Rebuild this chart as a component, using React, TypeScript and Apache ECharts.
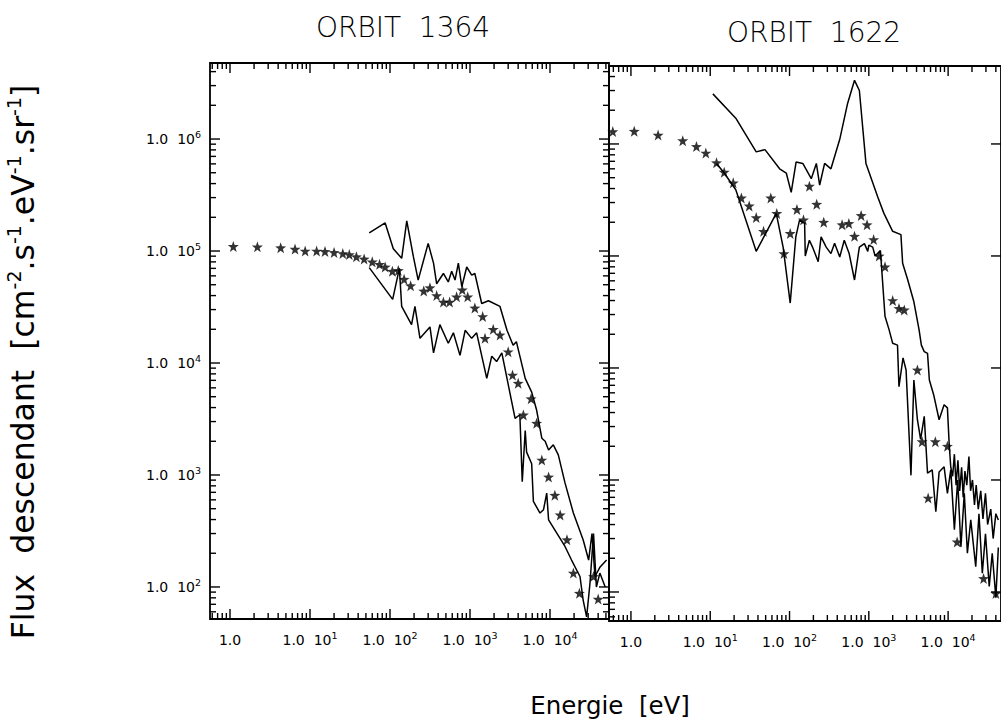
import React, { useEffect, useRef } from "react";
import * as echarts from "echarts";

// ---------- data (energy [eV], flux) ----------
const orbit1364Stars: [number, number][] = [
  [1.1, 1.1e5], [2.2, 1.09e5], [4.3, 1.07e5], [6.5, 1.04e5], [8.7, 1.0e5], [12.1, 1.0e5],
  [15.4, 9.9e4], [20, 9.7e4], [25.7, 9.5e4], [31, 9.3e4], [38, 8.9e4], [47.5, 8.5e4],
  [60, 8.0e4], [74, 7.6e4], [87, 7.2e4], [107, 6.6e4], [127, 6.7e4], [150, 5.6e4],
  [181, 4.9e4], [264, 4.4e4], [316, 4.7e4], [383, 4.0e4], [465, 3.5e4], [556, 3.5e4],
  [680, 3.9e4], [800, 4.5e4], [935, 3.9e4], [1150, 3.1e4], [1440, 2.6e4], [1540, 1.66e4],
  [1950, 2.0e4], [2370, 1.78e4], [3000, 1.26e4], [3400, 7800], [4000, 6600], [4650, 3440],
  [5800, 4800], [6800, 2900], [7900, 1360], [9600, 960], [11500, 660], [13400, 440],
  [16300, 264], [19600, 133], [23300, 88], [35000, 124], [40000, 78],
];

const orbit1364Upper: [number, number][] = [
  [55, 1.45e5], [87, 1.78e5], [110, 1.05e5], [140, 8.6e4], [162, 1.86e5], [196, 8.9e4],
  [225, 5.5e4], [300, 1.17e5], [350, 7.8e4], [383, 5.1e4], [465, 6.3e4], [535, 5.3e4],
  [590, 6.6e4], [650, 5.5e4], [715, 7.8e4], [790, 4.8e4], [910, 7.2e4], [1050, 6.1e4],
  [1150, 6.3e4], [1400, 3.4e4], [1700, 3.6e4], [2370, 3.2e4], [2900, 1.96e4], [3460, 1.44e4],
  [3800, 1.55e4], [4900, 7300], [5900, 5500], [6800, 3800], [7900, 2130], [8700, 2000],
  [9600, 1670], [11000, 1860], [12700, 1510], [15400, 850], [19600, 457], [26000, 263],
  [30400, 174], [33500, 300], [36500, 124], [42300, 151], [51000, 174],
];

const orbit1364Lower: [number, number][] = [
  [55, 7.1e4], [108, 3.7e4], [131, 7.0e4], [140, 3.2e4], [186, 2.2e4], [205, 3.2e4],
  [225, 2.1e4], [237, 1.66e4], [316, 2.1e4], [350, 1.23e4], [420, 2.2e4], [535, 1.5e4],
  [620, 1.86e4], [750, 1.17e4], [870, 1.96e4], [1050, 1.66e4], [1210, 1.86e4], [1620, 7300],
  [1870, 1.15e4], [2150, 1.03e4], [2500, 1.23e4], [3660, 3200], [4200, 3450], [4500, 870],
  [4900, 2500], [5100, 1600], [5900, 1260], [6200, 580], [7500, 457], [8300, 490],
  [9100, 690], [9600, 397], [15400, 230], [18600, 174], [23700, 124], [26000, 76],
  [28700, 54], [31600, 108], [35000, 300], [38000, 100], [42000, 133], [49000, 100],
];

const orbit1622Stars: [number, number][] = [
  [0.59, 1.29e6], [1.1, 1.3e6], [2.2, 1.2e6], [4.5, 1.07e6], [6.7, 9.5e5], [8.8, 8.3e5],
  [12, 6.8e5], [15, 5.6e5], [19.5, 4.5e5], [24.7, 3.3e5], [31, 2.8e5], [38, 2.2e5],
  [47, 1.66e5], [58, 3.3e5], [69, 2.4e5], [85, 1.05e5], [102, 1.59e5], [124, 2.6e5],
  [150, 2.1e5], [178, 4.2e5], [220, 2.9e5], [270, 2.0e5], [460, 1.9e5], [560, 1.95e5],
  [660, 1.5e5], [800, 2.3e5], [950, 1.9e5], [1150, 1.4e5], [1350, 1.0e5], [1600, 8.0e4],
  [2000, 4.0e4], [2400, 3.4e4], [2800, 3.3e4], [4100, 9600], [4700, 2200], [5600, 690],
  [6900, 2200], [9800, 2000], [13000, 280], [28000, 132], [40000, 97],
];

const orbit1622Upper: [number, number][] = [
  [10.8, 2.8e6], [21, 1.7e6], [38, 8.5e5], [49, 8.9e5], [75, 6.0e5], [91, 5.5e5],
  [105, 3.7e5], [121, 6.9e5], [147, 6.7e5], [188, 4.9e5], [218, 6.7e5], [240, 4.3e5],
  [277, 6.7e5], [333, 6.0e5], [430, 1.1e6], [540, 2.3e6], [660, 3.7e6], [760, 3.0e6],
  [920, 6.7e5], [1290, 3.4e5], [1550, 2.4e5], [2000, 1.66e5], [2540, 1.55e5], [2670, 8.6e4],
  [3100, 6.1e4], [3700, 3.9e4], [4300, 2.2e4], [4600, 1.6e4], [5000, 1.4e4], [5500, 1.35e4],
  [5800, 7800], [6600, 5700], [7700, 3450], [8900, 4700], [9800, 4400], [10300, 2150],
  [10800, 1300], [11400, 1080], [12000, 1700], [12600, 900], [13300, 1500], [14000, 800],
  [14800, 1300], [15500, 700], [16300, 1200], [17200, 900], [18300, 1620], [19200, 800],
  [20300, 1000], [21500, 600], [22600, 900], [24000, 550], [25800, 800], [27500, 450],
  [29600, 760], [31500, 400], [34500, 550], [37000, 300], [40000, 500], [43000, 440],
];

const orbit1622Lower: [number, number][] = [
  [12, 6.7e5], [15, 5.5e5], [21, 3.9e5], [38, 1.1e5], [68, 2.4e5], [83, 1.2e5],
  [102, 3.8e4], [120, 1.48e5], [134, 2.1e5], [155, 1.95e5], [158, 1.0e5], [178, 1.38e5],
  [195, 1.2e5], [230, 8.9e4], [250, 1.48e5], [290, 1.2e5], [333, 1.05e5], [370, 1.3e5],
  [430, 9.8e4], [490, 1.38e5], [565, 1.05e5], [660, 6.1e4], [760, 1.2e5], [880, 1.29e5],
  [970, 1.1e5], [1000, 1.25e5], [1120, 1.2e5], [1200, 1.0e5], [1400, 1.12e5], [1600, 2.9e4],
  [1800, 2.2e4], [2000, 1.66e4], [2300, 1.6e4], [2400, 6800], [2700, 1.23e4], [2950, 9600],
  [3400, 1100], [3700, 7800], [4100, 3450], [4500, 2300], [5000, 3700], [5500, 1150],
  [6300, 1230], [7000, 520], [7700, 1180], [8900, 1310], [9800, 760], [10800, 1230],
  [12000, 360], [13200, 1000], [14500, 253], [16000, 760], [17500, 222], [19300, 440],
  [22300, 168], [24500, 500], [27000, 147], [29600, 330], [33000, 112], [36000, 222],
  [40000, 89], [43000, 250],
];

const panelTitles = ["ORBIT  1364", "ORBIT  1622"];
const xTitle = "Energie  [eV]";
const tickMantissas = [1, 2, 3, 4, 5, 6, 7, 8, 9];
const xDecadeExps = [-1, 0, 1, 2, 3, 4];
const yDecadeExps = [1, 2, 3, 4, 5, 6];

// axis extents (log10)
const xRange1 = [-0.25, 4.7375];
const xRange2 = [-0.2767, 4.667];
const yRange1 = [1.714, 6.679];
const yRange2 = [1.741, 6.696];

const STAR =
  "path://M0,-10 L2.35,-3.24 L9.51,-3.09 L3.8,1.24 L5.88,8.09 L0,4 L-5.88,8.09 L-3.8,1.24 L-9.51,-3.09 L-2.35,-3.24 Z";
const FONT = "DejaVu Sans";

// tick list: [value, isMajor]
function tickValues(exps: number[], range: number[]) {
  const out: number[][] = [];
  for (const e of exps) {
    for (const m of tickMantissas) {
      const v = m * Math.pow(10, e);
      const l = Math.log10(v);
      if (l >= range[0] - 1e-9 && l <= range[1] + 1e-9) out.push([v, m === 1 ? 1 : 0]);
    }
  }
  return out;
}

const labelFmt = (v: number) => {
  const e = Math.log10(v);
  const r = Math.round(e);
  if (Math.abs(e - r) > 1e-6) return "";
  if (r === 0) return "1.0";
  return `1.0  10{s|${r}}`;
};

export default function App() {
  const ref = useRef<HTMLDivElement>(null);
  useEffect(() => {
    if (!ref.current) return;
    const chart = echarts.init(ref.current, undefined, { renderer: "svg" });

    // one custom series per grid drawing every tick (side: 0 bottom, 1 top, 2 left, 3 right)
    const tickSeries = (gi: number, xr: number[], yr: number[], rightMinor: boolean) => {
      const data: number[][] = [];
      const yRef = 1000;
      const xRef = 10;
      for (const t of tickValues(xDecadeExps, xr)) {
        data.push([t[0], yRef, 0, t[1]]);
        data.push([t[0], yRef, 1, t[1]]);
      }
      for (const t of tickValues(yDecadeExps, yr)) {
        data.push([xRef, t[0], 2, t[1]]);
        if (t[1] === 1 || rightMinor) data.push([xRef, t[0], 3, t[1]]);
      }
      return {
        type: "custom",
        coordinateSystem: "cartesian2d",
        xAxisIndex: gi,
        yAxisIndex: gi,
        silent: true,
        clip: false,
        z: 10,
        encode: { x: 0, y: 1 },
        data,
        renderItem: (params: any, api: any) => {
          const cs = params.coordSys;
          const p = api.coord([api.value(0), api.value(1)]);
          const side = api.value(2);
          const len = api.value(3) === 1 ? 10 : 6;
          let shape;
          if (side === 0) {
            const b = cs.y + cs.height;
            shape = { x1: p[0], y1: b, x2: p[0], y2: b - len };
          } else if (side === 1) {
            shape = { x1: p[0], y1: cs.y, x2: p[0], y2: cs.y + len };
          } else if (side === 2) {
            shape = { x1: cs.x, y1: p[1], x2: cs.x + len, y2: p[1] };
          } else {
            const r = cs.x + cs.width;
            shape = { x1: r, y1: p[1], x2: r - len, y2: p[1] };
          }
          return {
            type: "line",
            shape,
            style: { stroke: "#000", lineWidth: 1.4, fill: null },
          };
        },
      };
    };

    const labelStyle = {
      color: "#000",
      fontFamily: FONT,
      fontSize: 14,
      lineHeight: 19,
      rich: { s: { fontSize: 9.5, lineHeight: 9.5, verticalAlign: "top", fontFamily: FONT, color: "#000" } },
    };

    const xAxisBase = (gi: number, range: number[]) => ({
      type: "log",
      logBase: 10,
      gridIndex: gi,
      min: Math.pow(10, range[0]),
      max: Math.pow(10, range[1]),
      axisLine: { show: false },
      axisTick: { show: false },
      splitLine: { show: false },
      minorTick: { show: false },
      axisLabel: {
        show: true,
        showMinLabel: false,
        showMaxLabel: false,
        formatter: labelFmt,
        margin: 11,
        ...labelStyle,
      },
    });

    const yAxisBase = (gi: number, range: number[], showLabels: boolean) => ({
      type: "log",
      logBase: 10,
      gridIndex: gi,
      min: Math.pow(10, range[0]),
      max: Math.pow(10, range[1]),
      axisLine: { show: false },
      axisTick: { show: false },
      splitLine: { show: false },
      minorTick: { show: false },
      axisLabel: {
        show: showLabels,
        showMinLabel: false,
        showMaxLabel: false,
        formatter: labelFmt,
        margin: 9,
        ...labelStyle,
      },
    });

    const lineSeries = (gi: number, data: [number, number][]) => ({
      type: "line",
      xAxisIndex: gi,
      yAxisIndex: gi,
      data,
      showSymbol: false,
      symbol: "none",
      smooth: false,
      lineStyle: { color: "#000", width: 1.5 },
      clip: true,
    });

    const starSeries = (gi: number, data: [number, number][]) => ({
      type: "scatter",
      xAxisIndex: gi,
      yAxisIndex: gi,
      data,
      symbol: STAR,
      symbolSize: 11,
      itemStyle: { color: "#000" },
      clip: true,
    });

    const yTitleText =
      "{b|Flux  descendant  [cm}{s|-2}{b|.s}{s|-1}{b|.eV}{s|-1}{b|.sr}{s|-1}{b|]}";

    chart.setOption({
      animation: false,
      backgroundColor: "#fff",
      grid: [
        { left: 210, top: 63, width: 399, height: 556, show: true, borderColor: "#000", borderWidth: 1.8, backgroundColor: "transparent" },
        { left: 609, top: 66, width: 393, height: 555, show: true, borderColor: "#000", borderWidth: 1.8, backgroundColor: "transparent" },
      ],
      xAxis: [xAxisBase(0, xRange1), xAxisBase(1, xRange2)],
      yAxis: [yAxisBase(0, yRange1, true), yAxisBase(1, yRange2, false)],
      series: [
        lineSeries(0, orbit1364Upper),
        lineSeries(0, orbit1364Lower),
        starSeries(0, orbit1364Stars),
        lineSeries(1, orbit1622Upper),
        lineSeries(1, orbit1622Lower),
        starSeries(1, orbit1622Stars),
        tickSeries(0, xRange1, yRange1, true),
        tickSeries(1, xRange2, yRange2, false),
      ],
      graphic: [
        {
          type: "text",
          x: 403,
          y: 27,
          style: { text: panelTitles[0], fontFamily: FONT, fontSize: 28, fontWeight: 200, fill: "#000", align: "center", verticalAlign: "middle" },
        },
        {
          type: "text",
          x: 814,
          y: 32,
          style: { text: panelTitles[1], fontFamily: FONT, fontSize: 28, fontWeight: 200, fill: "#000", align: "center", verticalAlign: "middle" },
        },
        {
          type: "text",
          x: 610,
          y: 705,
          style: { text: xTitle, fontFamily: FONT, fontSize: 24.5, fill: "#000", align: "center", verticalAlign: "middle" },
        },
        {
          type: "text",
          x: 23,
          y: 362,
          rotation: Math.PI / 2,
          style: {
            text: yTitleText,
            fill: "#000",
            align: "center",
            verticalAlign: "middle",
            rich: {
              b: { fontFamily: FONT, fontSize: 31.5, lineHeight: 38, fill: "#000", color: "#000" },
              s: { fontFamily: FONT, fontSize: 19, lineHeight: 19, verticalAlign: "top", fill: "#000", color: "#000" },
            },
          },
        },
      ],
    });
    return () => chart.dispose();
  }, []);
  return (
    <div
      ref={ref}
      style={{ position: "fixed", left: 0, top: 0, width: 1001, height: 720, background: "#fff" }}
    />
  );
}
